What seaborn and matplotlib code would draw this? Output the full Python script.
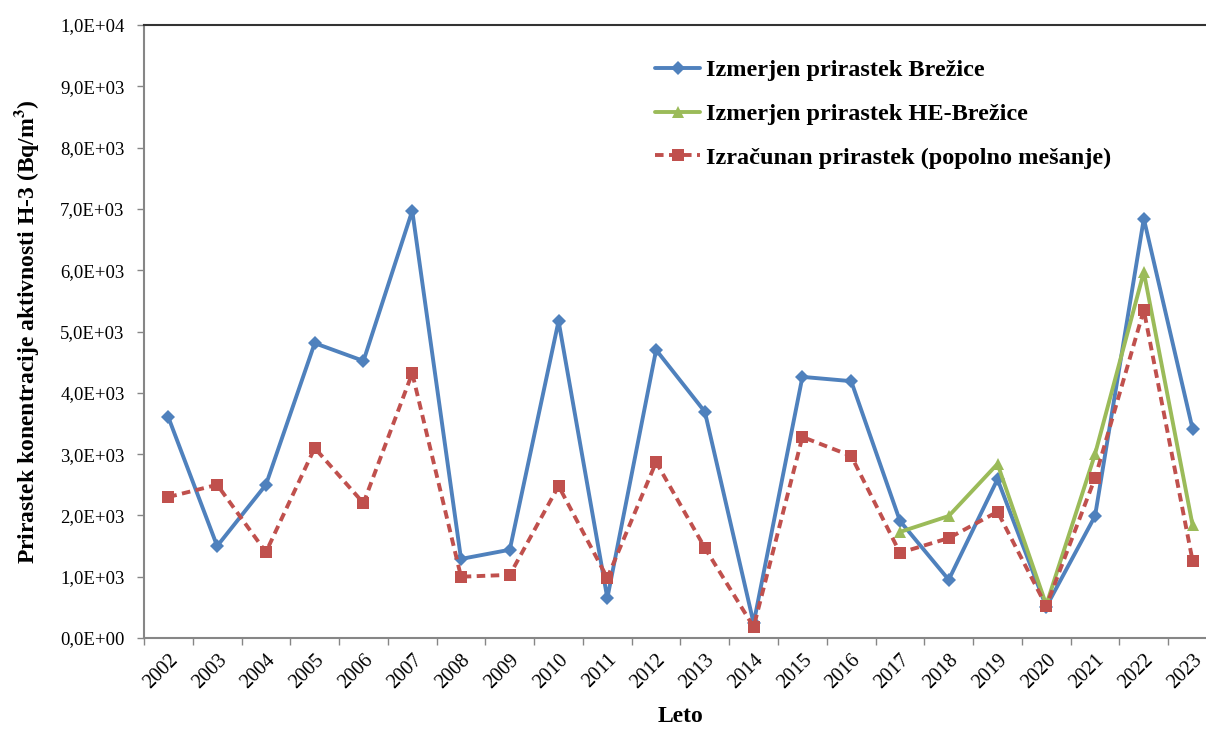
import numpy as np
import pandas as pd
import matplotlib
matplotlib.use('Agg')
import matplotlib.pyplot as plt
import seaborn as sns
from matplotlib.ticker import FuncFormatter, MultipleLocator

# Data
years = list(range(2002, 2024))
brezice = [3600, 1500, 2500, 4810, 4520, 6970, 1290, 1440, 5170, 650, 4700, 3690,
           240, 4260, 4190, 1910, 950, 2590, 510, 1990, 6840, 3410]
he_years = list(range(2017, 2024))
he_brezice = [1730, 1990, 2840, 540, 3000, 5970, 1840]
izracunan = [2300, 2500, 1400, 3100, 2200, 4320, 1000, 1030, 2480, 980, 2870, 1470,
             180, 3280, 2970, 1390, 1630, 2060, 520, 2610, 5350, 1260]

labels = ['Izmerjen prirastek Brežice',
          'Izmerjen prirastek HE-Brežice',
          'Izračunan prirastek (popolno mešanje)']

sns.set_theme(style="white")
plt.rcParams['font.family'] = ['Liberation Serif', 'DejaVu Serif']
plt.rcParams['mathtext.fontset'] = 'stix'
plt.rcParams['text.color'] = 'black'
plt.rcParams['axes.labelcolor'] = 'black'
plt.rcParams['xtick.color'] = 'black'
plt.rcParams['ytick.color'] = 'black'

fig = plt.figure(figsize=(12.06, 7.31), dpi=100)
ax = fig.add_axes([0.1194, 0.1272, 0.8897, 0.8386])

sns.lineplot(x=years, y=brezice, ax=ax, color='#4F81BD', lw=2.8, marker='D',
             markersize=7.5, markeredgewidth=0, label=labels[0])
sns.lineplot(x=he_years, y=he_brezice, ax=ax, color='#9BBB59', lw=2.8, marker='^',
             markersize=9, markeredgewidth=0, label=labels[1])
sns.lineplot(x=years, y=izracunan, ax=ax, color='#C0504D', lw=2.8, marker='s',
             markersize=8.5, markeredgewidth=0, linestyle=(0, (2.2, 1.4)), label=labels[2])

ax.set_xlim(2001.5, 2023.5)
ax.set_ylim(0, 10000)
ax.yaxis.set_major_locator(MultipleLocator(1000))
ax.yaxis.set_major_formatter(FuncFormatter(lambda v, p: f"{v:.1E}".replace('.', ',')))

ax.set_xticks(years)
ax.set_xticklabels([str(y) for y in years], rotation=45, ha='right',
                   rotation_mode='anchor', fontsize=14.5)
ax.set_xticks([y + 0.5 for y in [2001] + years], minor=True)
ax.tick_params(axis='x', which='major', length=0, pad=9)
ax.tick_params(axis='x', which='minor', length=5, width=1, color='#868686', direction='out', bottom=True)
ax.tick_params(axis='y', which='major', length=5, width=1, color='#868686', direction='out',
               left=True, labelsize=13.5, pad=9)

for s in ['left', 'bottom']:
    ax.spines[s].set_color('#868686')
    ax.spines[s].set_linewidth(1.5)
ax.spines['top'].set_color('#333333')
ax.spines['top'].set_linewidth(1.5)
ax.spines['right'].set_visible(False)

ax.set_xlabel('Leto', fontsize=17, fontweight='bold', labelpad=10)
ax.set_ylabel(r'Prirastek konentracije aktivnosti H-3 (Bq/m$^{\mathbf{3}}$)',
              fontsize=17, fontweight='bold', labelpad=14)

leg = ax.legend(loc='upper left', bbox_to_anchor=(0.456, 0.98), frameon=False,
                prop={'weight': 'bold', 'size': 17.5}, labelspacing=0.9,
                handlelength=1.85, handletextpad=0.25)

fig.savefig('out.png', dpi=100)
